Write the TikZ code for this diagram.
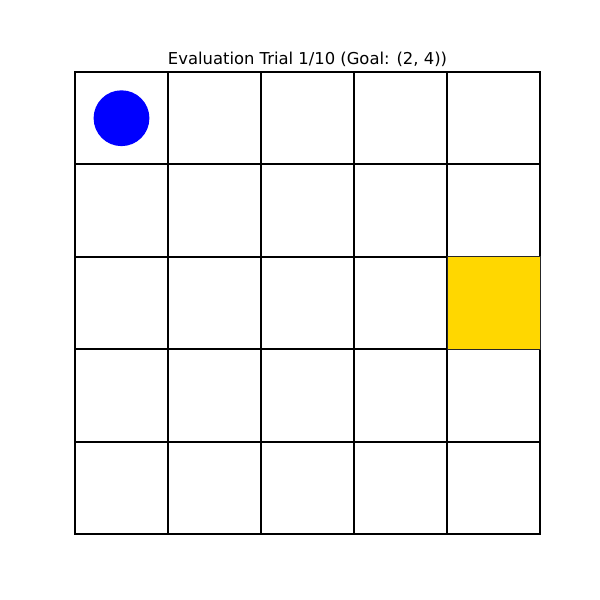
\documentclass[tikz,border=0pt]{standalone}
\usepackage{fontspec}
\setmainfont{DejaVu Sans}
\usetikzlibrary{positioning}

\begin{document}
\begin{tikzpicture}[
  x=0.72pt, y=-0.72pt,
  font=\fontsize{11.8}{14}\selectfont,
  gridline/.style={draw=black,line width=1.5pt},
  goalcell/.style={fill={rgb,255:red,255;green,215;blue,0},draw=black!85,line width=0.5pt},
  agent/.style={fill={rgb,255:red,0;green,0;blue,255}}
]
\useasboundingbox (0,0) rectangle (600,600);
% grid 5x5
\foreach \i in {0,...,4}
  \foreach \j in {0,...,4}
    \draw[gridline] (75+93*\i,72+92.4*\j) rectangle ++(93,92.4);
% goal (2,4)
\filldraw[goalcell] (447,256.8) rectangle (540,349.2);
% agent
\fill[agent] (121.5,118.2) circle (27.9);
\node[anchor=base] (title) at (307.5,64) {Evaluation Trial 1/10 (Goal: (2, 4))};
\end{tikzpicture}
\end{document}
